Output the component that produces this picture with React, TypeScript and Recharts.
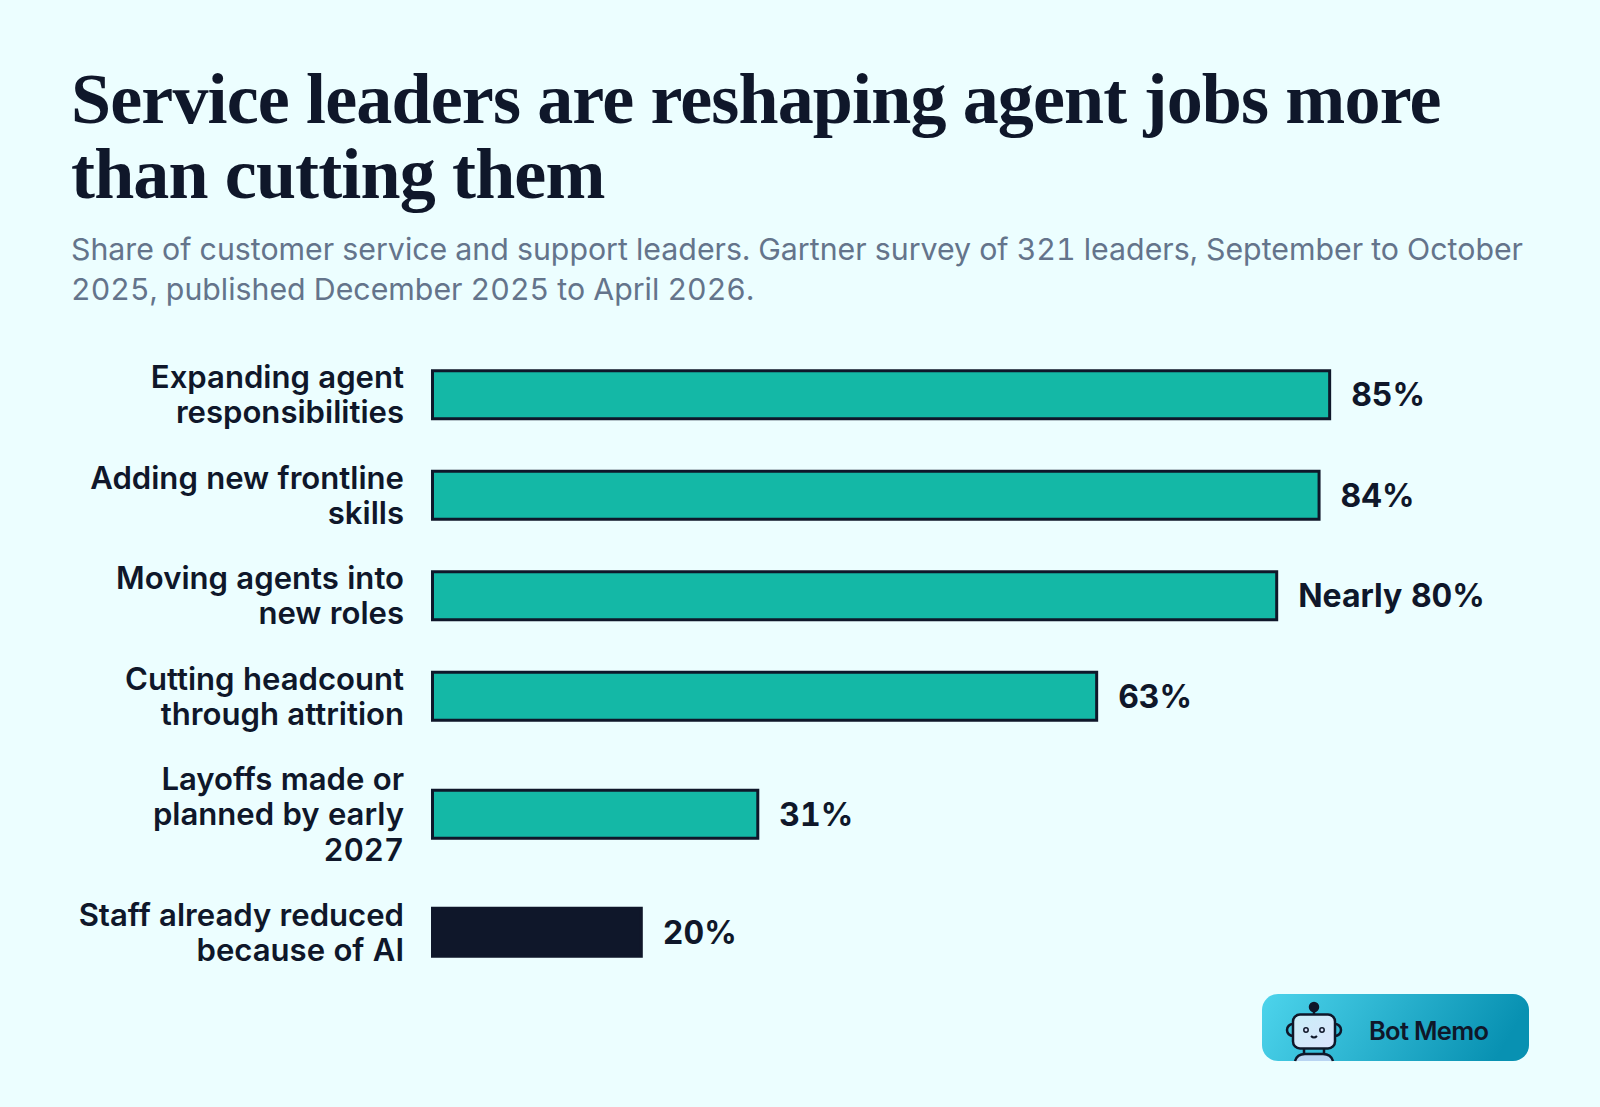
import { BarChart, Bar, XAxis, YAxis, Cell, LabelList } from 'recharts';

const categories = [
  'Expanding agent responsibilities',
  'Adding new frontline skills',
  'Moving agents into new roles',
  'Cutting headcount through attrition',
  'Layoffs made or planned by early 2027',
  'Staff already reduced because of AI',
];
const categoryLines = [
  ['Expanding agent', 'responsibilities'],
  ['Adding new frontline', 'skills'],
  ['Moving agents into', 'new roles'],
  ['Cutting headcount', 'through attrition'],
  ['Layoffs made or', 'planned by early', '2027'],
  ['Staff already reduced', 'because of AI'],
];
const values = [85, 84, 80, 63, 31, 20];
const valueLabels = ['85%', '84%', 'Nearly 80%', '63%', '31%', '20%'];

const INK = '#0f172a';
const TEAL = '#14b8a6';
const barColors = [TEAL, TEAL, TEAL, TEAL, TEAL, INK];

const chartData = categories.map((name, i) => ({
  name,
  value: values[i],
  label: valueLabels[i],
}));

// Rows grow with the number of label lines, so the category scale is not uniform
function rowScale(domain: string[] = categories, range: number[] = [0, 1]) {
  const heights = domain.map((c) => {
    const lines = categoryLines[categories.indexOf(c)]?.length ?? 2;
    return 100.5 + (lines - 2) * 35;
  });
  const total = heights.reduce((a, b) => a + b, 0);
  const k = (range[1] - range[0]) / total;
  const band = 100 * Math.abs(k);
  const starts: Record<string, number> = {};
  let acc = 0;
  domain.forEach((c, i) => {
    starts[c] = range[0] + (acc + heights[i] / 2) * k - band / 2;
    acc += heights[i];
  });
  const scale: any = (c: string) => starts[c];
  scale.domain = (d?: string[]) => (d ? rowScale(d, range) : domain);
  scale.range = (r?: number[]) => (r ? rowScale(domain, r) : range);
  scale.bandwidth = () => band;
  scale.step = () => band;
  scale.copy = () => rowScale(domain, range);
  return scale;
}

function CategoryTick({ x, y, payload }: any) {
  const lines = categoryLines[categories.indexOf(payload.value)] ?? [payload.value];
  const lineHeight = 35.4;
  const first = y - ((lines.length - 1) * lineHeight) / 2;
  return (
    <text
      textAnchor="end"
      fontFamily="Inter"
      fontWeight={600}
      fontSize={31.1}
      fill={INK}
      style={{ fontVariantNumeric: 'tabular-nums' }}
    >
      {lines.map((line: string, i: number) => (
        <tspan key={line} x={404} y={first + i * lineHeight} dy="0.37em">
          {line}
        </tspan>
      ))}
    </text>
  );
}

// Border sits inside the bar's box
function BorderedBar({ x, y, width, height, fill }: any) {
  return (
    <rect
      x={x + 1.5}
      y={y + 1.5}
      width={width - 3}
      height={height - 3}
      fill={fill}
      stroke={INK}
      strokeWidth={3}
    />
  );
}

function BotBadge() {
  return (
    <svg width={268} height={68} style={{ position: 'absolute', left: 1262, top: 994 }}>
      <defs>
        <linearGradient id="badge" x1="0" y1="0" x2="1" y2="0.15">
          <stop offset="0%" stopColor="#4dd4ec" />
          <stop offset="100%" stopColor="#0891b2" />
        </linearGradient>
        <linearGradient id="face" x1="0" y1="0" x2="1" y2="1">
          <stop offset="0%" stopColor="#c9eef8" />
          <stop offset="100%" stopColor="#dde3fd" />
        </linearGradient>
      </defs>
      <rect width={267} height={67} rx={16} fill="url(#badge)" />
      <g stroke={INK} strokeWidth={2.5} fill="none">
        <circle cx={52} cy={13} r={4} fill={INK} />
        <path d="M52 17V21" />
        <path d="M31 30a5.5 5.5 0 0 0 0 12" />
        <path d="M73 30a5.5 5.5 0 0 1 0 12" />
        <rect x={31} y={20.5} width={42} height={34} rx={7} fill="url(#face)" />
        <circle cx={44} cy={36} r={2.2} fill="#dde3fd" strokeWidth={1.5} />
        <circle cx={60} cy={36} r={2.2} fill="#dde3fd" strokeWidth={1.5} />
        <path d="M49 42q3 3 6 0" strokeWidth={2} />
        <path d="M42 55V60M62 55V60" />
        <path d="M33 67q2-7 10-7H61q8 0 10 7" fill="#b9d5f2" />
      </g>
      <text x={107} y={46} fontFamily="Inter" fontWeight={600} fontSize={25.5} letterSpacing={-0.7} fill={INK}>
        Bot Memo
      </text>
    </svg>
  );
}

export default function App() {
  return (
    <div style={{ position: 'absolute', left: 0, top: 0, width: 1600, height: 1107, background: '#ecfeff', overflow: 'hidden' }}>
      <style>{'body{margin:0;background:#ecfeff}'}</style>
      <div
        style={{
          position: 'absolute',
          left: 71,
          top: 62,
          width: 1480,
          fontFamily: '"Liberation Serif"',
          fontWeight: 700,
          fontSize: 72,
          lineHeight: '74.5px',
          letterSpacing: -0.85,
          color: INK,
        }}
      >
        Service leaders are reshaping agent jobs more
        <br />
        than cutting them
      </div>
      <div
        style={{
          position: 'absolute',
          left: 71,
          top: 229,
          width: 1500,
          fontFamily: 'Inter',
          fontSize: 30.3,
          lineHeight: '40px',
          color: '#64748b',
          fontVariantNumeric: 'tabular-nums',
        }}
      >
        Share of customer service and support leaders. Gartner survey of 321 leaders, September to October
        <br />
        2025, published December 2025 to April 2026.
      </div>
      <div style={{ position: 'absolute', left: 0, top: 0 }}>
        <BarChart
          width={1600}
          height={1107}
          data={chartData}
          layout="vertical"
          margin={{ top: 344, right: 110, bottom: 125, left: 0 }}
        >
          <XAxis type="number" domain={[0, 100]} hide />
          <YAxis
            type="category"
            dataKey="name"
            width={431}
            scale={rowScale()}
            axisLine={false}
            tickLine={false}
            interval={0}
            tick={<CategoryTick />}
          />
          <Bar dataKey="value" barSize={51} isAnimationActive={false} shape={<BorderedBar />}>
            {chartData.map((d, i) => (
              <Cell key={d.name} fill={barColors[i]} />
            ))}
            <LabelList
              dataKey="label"
              position="right"
              offset={20}
              fontFamily="Inter"
              fontWeight={700}
              fontSize={32}
              fill={INK}
              style={{ fontVariantNumeric: 'tabular-nums' }}
            />
          </Bar>
        </BarChart>
      </div>
      <BotBadge />
    </div>
  );
}
